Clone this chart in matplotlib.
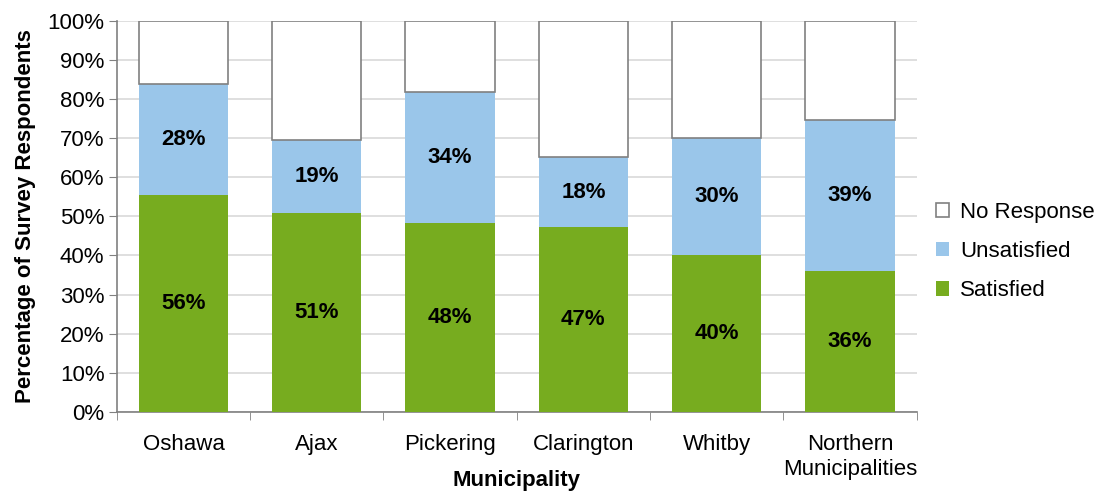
import matplotlib.pyplot as plt
import numpy as np

plt.rcParams['font.family'] = ['Liberation Sans', 'DejaVu Sans']

municipalities = ['Oshawa', 'Ajax', 'Pickering', 'Clarington', 'Whitby', 'Northern\nMunicipalities']
satisfied = [55.6, 51.0, 48.2, 47.2, 40.1, 35.9]
unsatisfied = [28.2, 18.6, 33.6, 18.1, 29.9, 38.9]
no_response = [100 - s - u for s, u in zip(satisfied, unsatisfied)]

green = '#77AC1F'
blue = '#9AC6EA'
edge_gray = '#808080'

fig = plt.figure(figsize=(11.03, 4.93), dpi=100)
ax = fig.add_axes([0.106, 0.165, 0.725, 0.792])

x = np.arange(len(municipalities))
w = 0.67
ax.bar(x, satisfied, w, color=green, label='Satisfied', zorder=3)
ax.bar(x, unsatisfied, w, bottom=satisfied, color=blue, label='Unsatisfied', zorder=3)
bottoms = [s + u for s, u in zip(satisfied, unsatisfied)]
ax.bar(x, no_response, w, bottom=bottoms, color='white', edgecolor=edge_gray,
       linewidth=1.2, label='No Response', zorder=3)

# value labels in the middle of green and blue segments
for i in range(len(x)):
    ax.text(x[i], satisfied[i] / 2, f'{round(satisfied[i])}%', ha='center', va='center',
            fontsize=16, fontweight='bold', zorder=4)
    ax.text(x[i], satisfied[i] + unsatisfied[i] / 2, f'{round(unsatisfied[i])}%',
            ha='center', va='center', fontsize=16, fontweight='bold', zorder=4)

ax.set_xlim(-0.5, len(x) - 0.5)
ax.set_ylim(0, 100)
ax.set_yticks(np.arange(0, 101, 10))
ax.set_yticklabels([f'{v}%' for v in range(0, 101, 10)], fontsize=16)
ax.set_xticks(x)
ax.set_xticklabels(municipalities, fontsize=16, linespacing=1.25)
ax.set_xticks(np.arange(-0.5, len(x), 1), minor=True)
ax.tick_params(axis='x', which='major', length=0, pad=16)
ax.tick_params(axis='x', which='minor', length=6, color=edge_gray, direction='out')
ax.tick_params(axis='y', length=6, color=edge_gray, direction='out', pad=3)

ax.yaxis.grid(True, color='#D9D9D9', linewidth=1.2, zorder=0)
ax.set_axisbelow(True)
for side in ['top', 'right']:
    ax.spines[side].set_visible(False)
for side in ['left', 'bottom']:
    ax.spines[side].set_color(edge_gray)
    ax.spines[side].set_linewidth(1.2)

ax.set_ylabel('Percentage of Survey Respondents', fontsize=16, fontweight='bold', labelpad=8)
ax.set_xlabel('Municipality', fontsize=16, fontweight='bold', va='center')
ax.xaxis.set_label_coords(0.5, -0.177)

handles, labels = ax.get_legend_handles_labels()
leg = ax.legend(handles[::-1], labels[::-1], loc='center left', bbox_to_anchor=(1.013, 0.41),
                frameon=False, fontsize=16, handlelength=0.6, handleheight=0.6,
                handletextpad=0.5, labelspacing=0.82, borderaxespad=0)

plt.savefig('out.png', dpi=100)
